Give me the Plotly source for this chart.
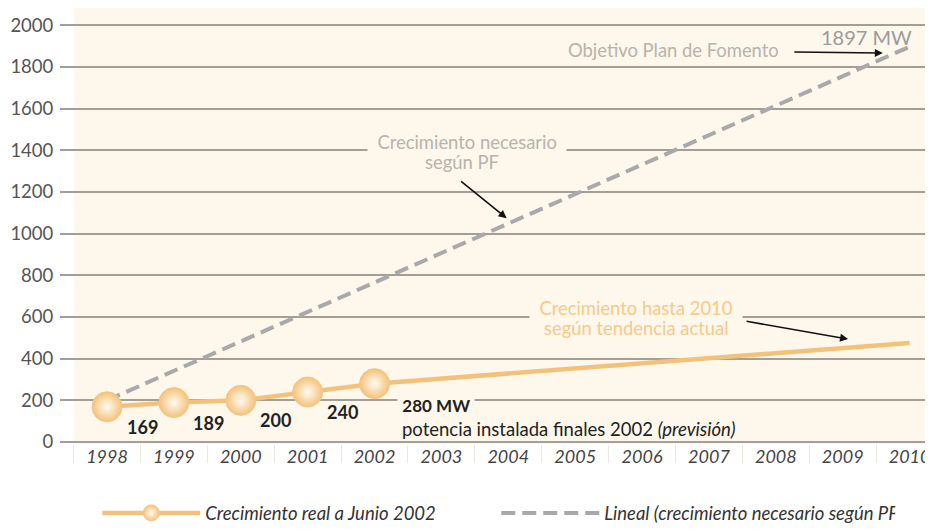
import plotly.graph_objects as go

# ---------------- data ----------------
years = ["1998", "1999", "2000", "2001", "2002", "2003", "2004",
         "2005", "2006", "2007", "2008", "2009", "2010"]
real_years = ["1998", "1999", "2000", "2001", "2002"]
real_values = [169, 189, 200, 240, 280]
trend_years = ["2002", "2010"]
trend_values = [280, 475]
linear_years = ["1998", "2010"]
linear_values = [200, 1897]
y_ticks = [0, 200, 400, 600, 800, 1000, 1200, 1400, 1600, 1800, 2000]

FONT = "Lato"
BG = "#fdf7ec"
ORANGE = "#f3c27a"
GRID = "#a39e96"
GREY_TXT = "#b8b3ab"
ORANGE_TXT = "#f6ca88"
NB = "\u00a0"

fig = go.Figure()

fig.add_trace(go.Scatter(
    x=linear_years, y=linear_values, mode="lines",
    name="Lineal (crecimiento necesario según PF)",
    line=dict(color="#a9a9a9", width=4, dash="14px,7px"),
))
fig.add_trace(go.Scatter(
    x=trend_years, y=trend_values, mode="lines", showlegend=False,
    line=dict(color=ORANGE, width=4.5), hoverinfo="skip",
))
fig.add_trace(go.Scatter(
    x=real_years, y=real_values, mode="lines+markers",
    name="Crecimiento real a Junio 2002",
    line=dict(color=ORANGE, width=4.5),
    marker=dict(size=30, color="#f4c27a",
                gradient=dict(type="radial", color="#fffbf3"),
                line=dict(color="#f3c784", width=1)),
))

annotations = []
# value labels
for yr, v in zip(real_years[:-1], real_values[:-1]):
    annotations.append(dict(x=years.index(yr), y=v, text=f"<b>{v}</b>", showarrow=False,
                            xshift=35, yshift=-20,
                            font=dict(family=FONT, size=18, color="#222")))
i2002 = years.index(real_years[-1])
annotations.append(dict(
    x=i2002, y=real_values[-1], text=NB + "<b>280 MW</b>" + NB,
    showarrow=False, xanchor="left", yanchor="middle",
    xshift=22, yshift=-22, bgcolor=BG, borderpad=0,
    font=dict(family=FONT, size=17, color="#222")))
annotations.append(dict(
    x=i2002, y=real_values[-1], text="potencia instalada finales 2002 <i>(previsión)</i>",
    showarrow=False, xanchor="left", yanchor="middle",
    xshift=25, yshift=-45,
    font=dict(family=FONT, size=18.5, color="#222")))
annotations.append(dict(
    x=years.index(linear_years[-1]), y=linear_values[-1], text="1897 MW", showarrow=False,
    xshift=-43, yshift=10, font=dict(family=FONT, size=20, color="#9b9b9b")))

# descriptive texts (one annotation per line)
texts = [
    (8.475, 1881, "Objetivo Plan de Fomento", GREY_TXT, False),
    (5.38, 1441, "Crecimiento necesario", GREY_TXT, True),
    (5.305, 1345, "según PF", GREY_TXT, False),
    (7.907, 643, "Crecimiento hasta 2010", ORANGE_TXT, True),
    (7.915, 547, "según tendencia actual", ORANGE_TXT, False),
]
for x, y, t, c, masked in texts:
    d = dict(x=x, y=y, text=t, showarrow=False,
             font=dict(family=FONT, size=18.4, color=c))
    if masked:
        d.update(text=NB * 2 + t + NB * 2, bgcolor=BG, borderpad=0)
    annotations.append(d)

# arrows
for hx, hy, ax, ay in [(11.6, 1867, -90, -1), (5.975, 1074, -47, -38), (11.08, 494, -103, -18)]:
    annotations.append(dict(x=hx, y=hy, ax=ax, ay=ay, text="", showarrow=True,
                            arrowhead=2, arrowsize=1, arrowwidth=1.6, arrowcolor="#111"))

# cream panel behind the plot (grid lines run a little past its left edge)
shapes = [dict(type="rect", xref="x", yref="paper", x0=-0.493, x1=12.35, y0=0, y1=1,
               fillcolor=BG, line=dict(width=0), layer="below")]

fig.update_layout(
    width=925, height=521,
    margin=dict(l=52, r=0, t=0, b=85),
    paper_bgcolor="white", plot_bgcolor="white",
    font=dict(family=FONT),
    showlegend=True,
    legend=dict(orientation="h", xref="container", yref="container",
                x=0.0965, y=0.03, xanchor="left", yanchor="middle",
                itemwidth=98, traceorder="reversed",
                font=dict(family=FONT, size=18.5, color="#333", style="italic"),
                entrywidth=286, entrywidthmode="pixels"),
    annotations=annotations,
    shapes=shapes,
)
fig.update_xaxes(type="category", categoryorder="array", categoryarray=years,
                 range=[-0.703, 12.35], showgrid=False, zeroline=False, automargin=False,
                 ticks="outside", tickson="boundaries", ticklen=18, tickcolor="#ece8e1",
                 tickfont=dict(family=FONT, size=18, color="#444", style="italic"),
                 showline=False)
fig.update_yaxes(range=[-9.6, 2083], tickvals=y_ticks, showgrid=True, gridcolor=GRID,
                 gridwidth=1.6, zeroline=False, ticks="outside", ticklen=2, automargin=False,
                 tickcolor="rgba(0,0,0,0)",
                 tickfont=dict(family=FONT, size=18.5, color="#555"))

fig.write_html("out.html")
